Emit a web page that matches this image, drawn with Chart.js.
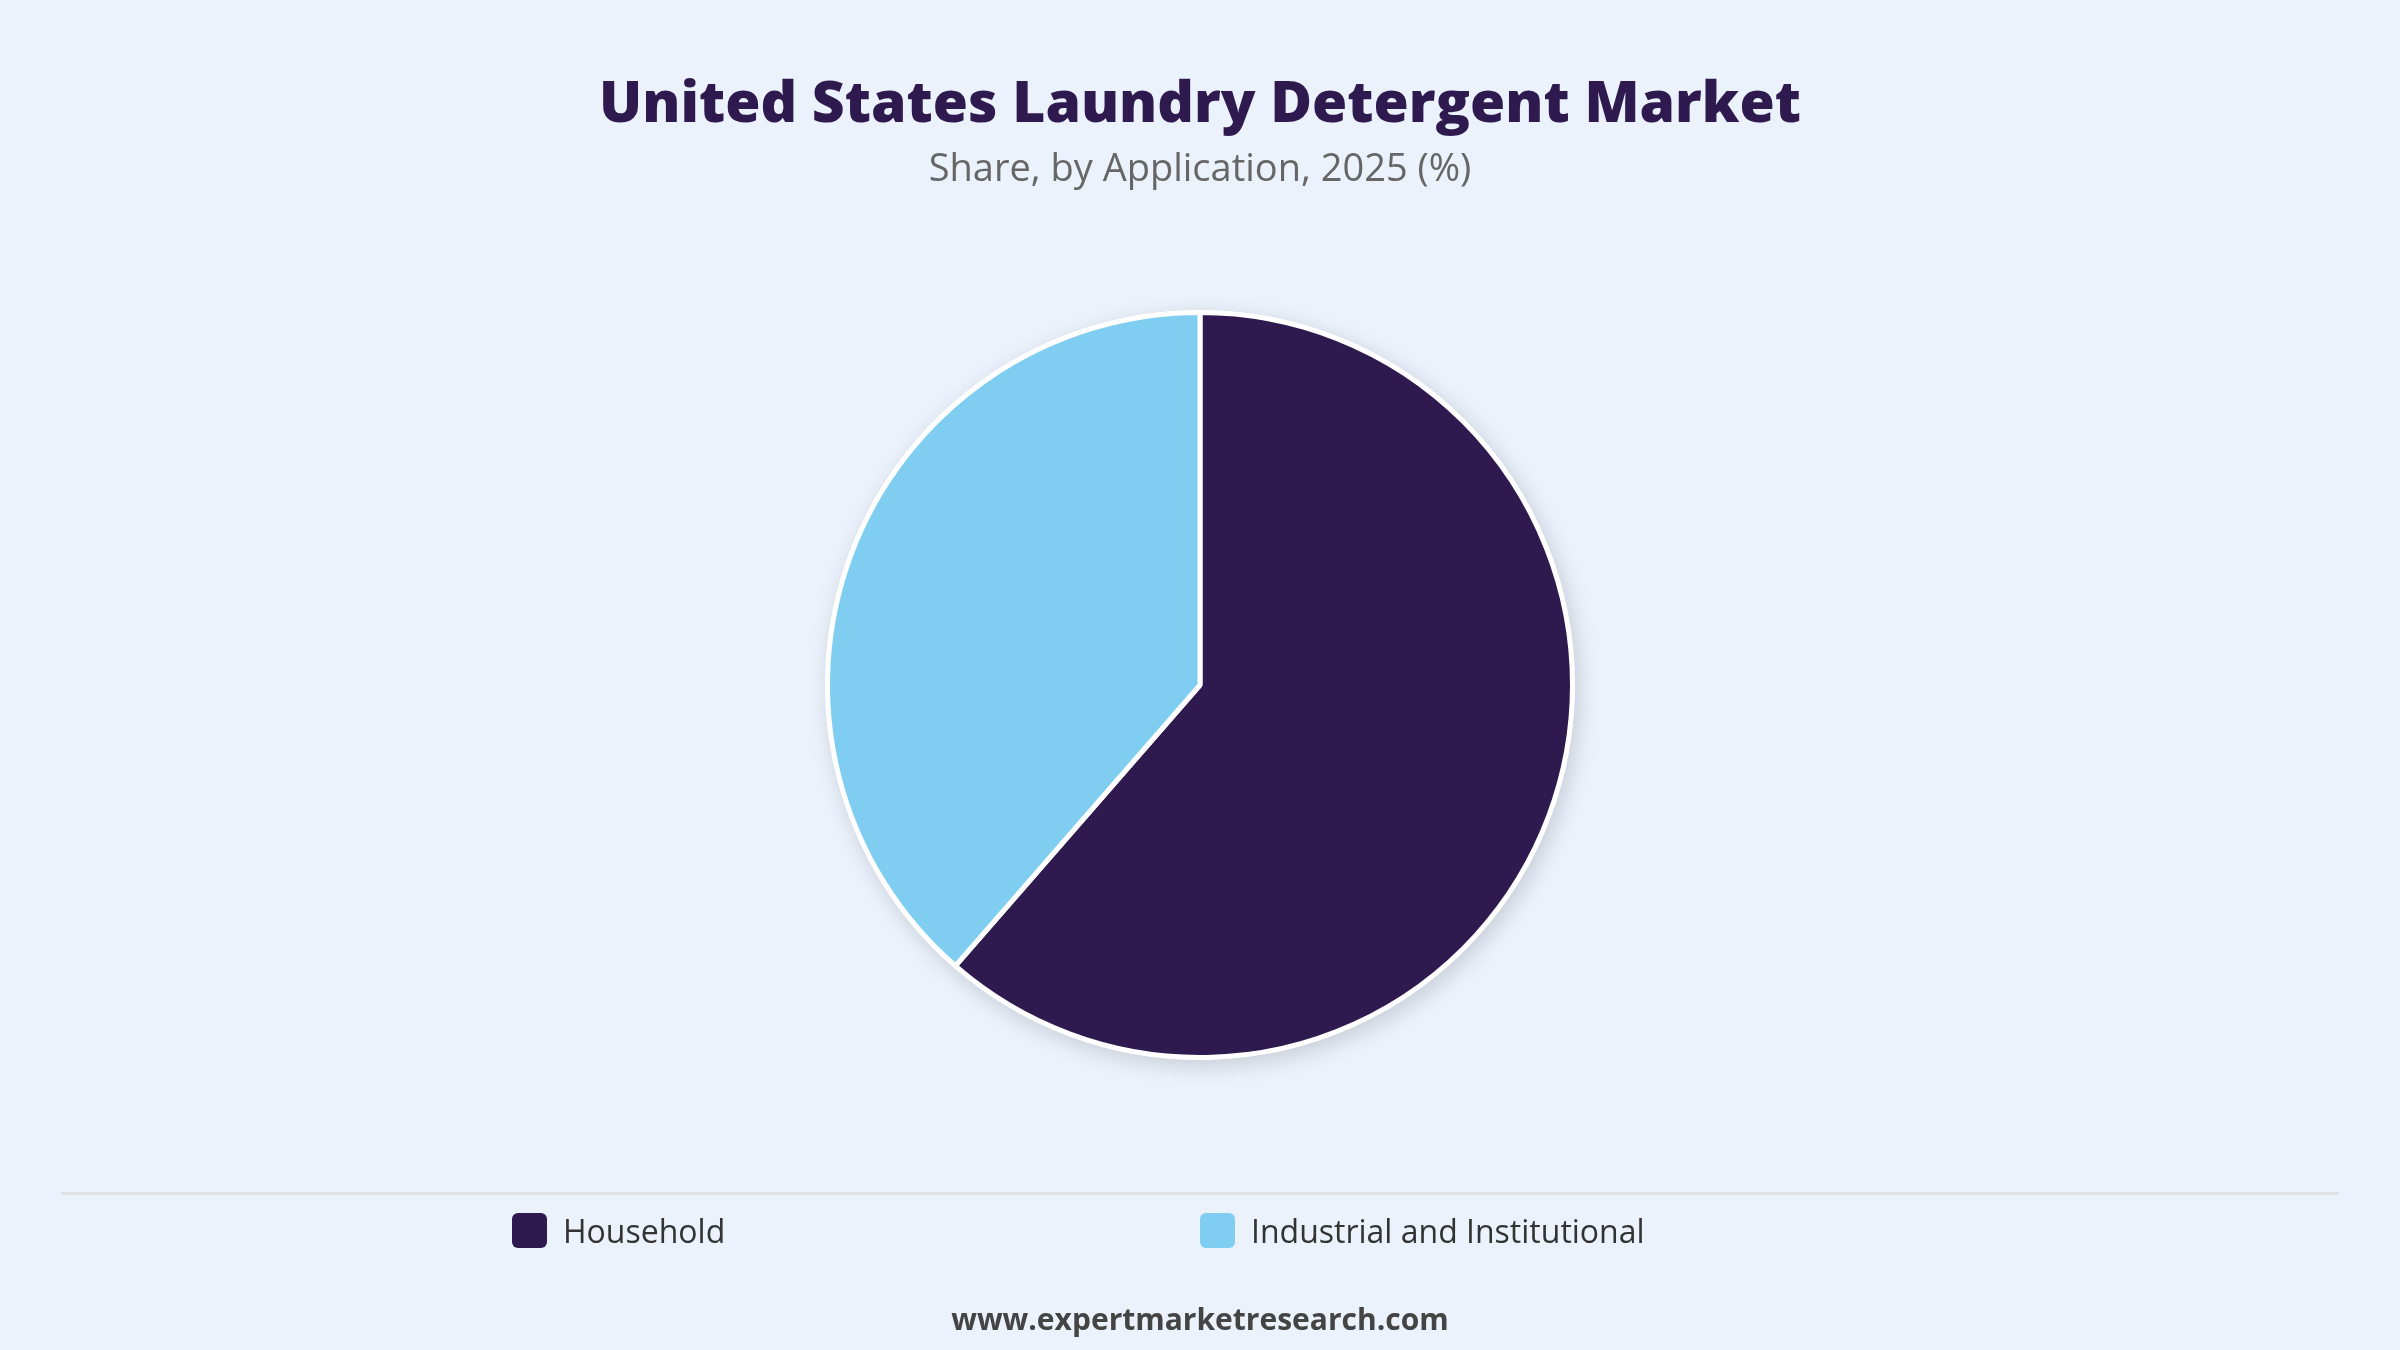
<!DOCTYPE html>
<html>
<head>
<meta charset="utf-8">
<script src="https://cdn.jsdelivr.net/npm/chart.js@4.4.1/dist/chart.umd.min.js"></script>
<style>
    html, body {
        margin: 0;
        padding: 0;
        background: #ebf2fc;
        font-family: "Open Sans", "Noto Sans", sans-serif;
    }
    #page {
        position: relative;
        width: 2400px;
        height: 1350px;
        overflow: hidden;
    }
    #chart {
        position: absolute;
        left: 0;
        top: 0;
    }
    .title {
        position: absolute;
        left: 0;
        width: 2400px;
        text-align: center;
        top: 61px;
        font-size: 57px;
        font-weight: 800;
        color: #2e1a4f;
    }
    .subtitle {
        position: absolute;
        left: 0;
        width: 2400px;
        text-align: center;
        top: 140px;
        font-size: 38px;
        color: #666;
    }
    .divider {
        position: absolute;
        left: 61px;
        width: 2278px;
        top: 1192px;
        height: 3px;
        background: #dfe1e5;
    }
    #legend {
        position: absolute;
        left: 512px;
        top: 1207px;
        display: grid;
        grid-template-columns: 688px 688px;
    }
    .legend-item {
        display: flex;
        align-items: center;
        font-size: 32px;
        color: #333;
        height: 46px;
    }
    .legend-box {
        width: 35px;
        height: 35px;
        border-radius: 6px;
        margin-right: 16px;
    }
    .footer {
        position: absolute;
        left: 0;
        width: 2400px;
        text-align: center;
        top: 1298px;
        font-size: 30px;
        font-weight: 700;
        color: #444;
    }
</style>
</head>
<body>
<div id="page">
    <canvas id="chart" width="2400" height="1350"></canvas>
    <div class="title">United States Laundry Detergent Market</div>
    <div class="subtitle">Share, by Application, 2025 (%)</div>
    <div class="divider"></div>
    <div id="legend"></div>
    <div class="footer">www.expertmarketresearch.com</div>
</div>
<script>
// Dados do gráfico
const categories = ['Household', 'Industrial and Institutional'];
const shares = [61.4, 38.6];
const sliceColors = ['#2e1a4f', '#7fcef1'];

// Sombra suave atrás da pizza
const pieShadow = {
    id: 'pieShadow',
    beforeDatasetsDraw(chart) {
        const arc = chart.getDatasetMeta(0).data[0];
        if (!arc) return;
        const ctx = chart.ctx;
        ctx.save();
        ctx.shadowColor = 'rgba(0, 0, 0, 0.16)';
        ctx.shadowBlur = 22;
        ctx.shadowOffsetX = 4;
        ctx.shadowOffsetY = 6;
        ctx.fillStyle = '#ffffff';
        ctx.beginPath();
        ctx.arc(arc.x, arc.y, arc.outerRadius + 2, 0, Math.PI * 2);
        ctx.fill();
        ctx.restore();
    }
};

const chart = new Chart(document.getElementById('chart').getContext('2d'), {
    type: 'pie',
    data: {
        labels: categories,
        datasets: [{
            data: shares,
            backgroundColor: sliceColors,
            borderColor: '#ffffff',
            borderWidth: 5
        }]
    },
    options: {
        responsive: false,
        animation: false,
        layout: {
            padding: { top: 310, bottom: 290, left: 825, right: 825 }
        },
        plugins: {
            legend: { display: false },
            tooltip: { enabled: false },
            title: { display: false }
        }
    },
    plugins: [pieShadow]
});

// Legenda em HTML a partir dos dados
const legendEl = document.getElementById('legend');
chart.data.labels.forEach((label, i) => {
    const item = document.createElement('div');
    item.className = 'legend-item';
    const box = document.createElement('span');
    box.className = 'legend-box';
    box.style.background = chart.data.datasets[0].backgroundColor[i];
    item.appendChild(box);
    item.appendChild(document.createTextNode(label));
    legendEl.appendChild(item);
});
</script>
</body>
</html>
